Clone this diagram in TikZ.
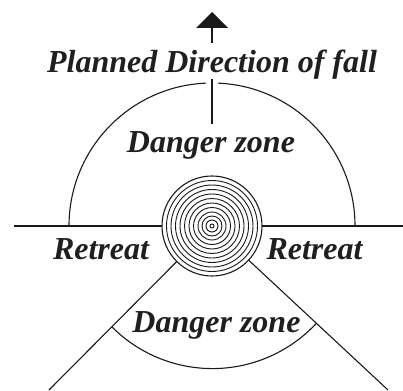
\documentclass[tikz,border=0pt]{standalone}
\usepackage{fontspec}
\setmainfont{Liberation Serif}
\tikzset{
  ln/.style={line width=1.1pt,black!90},
  ring/.style={line width=0.9pt,black!90,draw,circle,inner sep=0pt},
  lab/.style={font=\bfseries\itshape\fontsize{#1}{#1}\selectfont,text=black!88,inner sep=0pt,anchor=base},
}
\begin{document}
\begin{tikzpicture}[x=1pt,y=-1pt]
\useasboundingbox (0,0) rectangle (403,390);
\coordinate (c) at (212,226);
\coordinate (hl) at (14,226);
\coordinate (hr) at (403,226);
\coordinate (a1) at (69,226);
\coordinate (a2) at (355,226);
\coordinate (sl) at (49,390);
\coordinate (sr) at (388,390);
\coordinate (v1) at (212,79);
\coordinate (v2) at (212,124);
\coordinate (s1) at (212,43);
\coordinate (s2) at (212,27);
\draw[ln] (hl) -- (c);
\draw[ln] (c) -- (hr);
\draw[ln] (c) -- (sl);
\draw[ln] (c) -- (sr);
% big arc with gap at the top
\draw[ln] (a1) arc[start angle=180,end angle=267.5,radius=143];
\draw[ln] (a2) arc[start angle=0,end angle=-87.5,radius=143];
\draw[ln] (v1) -- (v2);
\draw[ln] (s1) -- (s2);
\fill[black!90] (212,12) -- (228,28) -- (196,28) -- cycle;
% lower arc
\draw[ln] (112,327) arc[start angle=135,end angle=43,radius=142];
% trunk
\node[ring,fill=white,line width=1.1pt,minimum size=100pt] (t0) at (c) {};
\foreach \r in {45.5,41,36.5,32,27.5,23,18.5,14,10,6,2}{
  \node[ring,minimum size=2*\r pt] at (c) {};
}
\node[lab=32] (p) at (212,73) {Planned Direction of fall};
\node[lab=32] (d1) at (211,152) {Danger zone};
\node[lab=32] (d2) at (216.5,332) {Danger zone};
\node[lab=32] (r1) at (101,259) {Retreat};
\node[lab=32] (r2) at (314.5,259) {Retreat};
\end{tikzpicture}
\end{document}
